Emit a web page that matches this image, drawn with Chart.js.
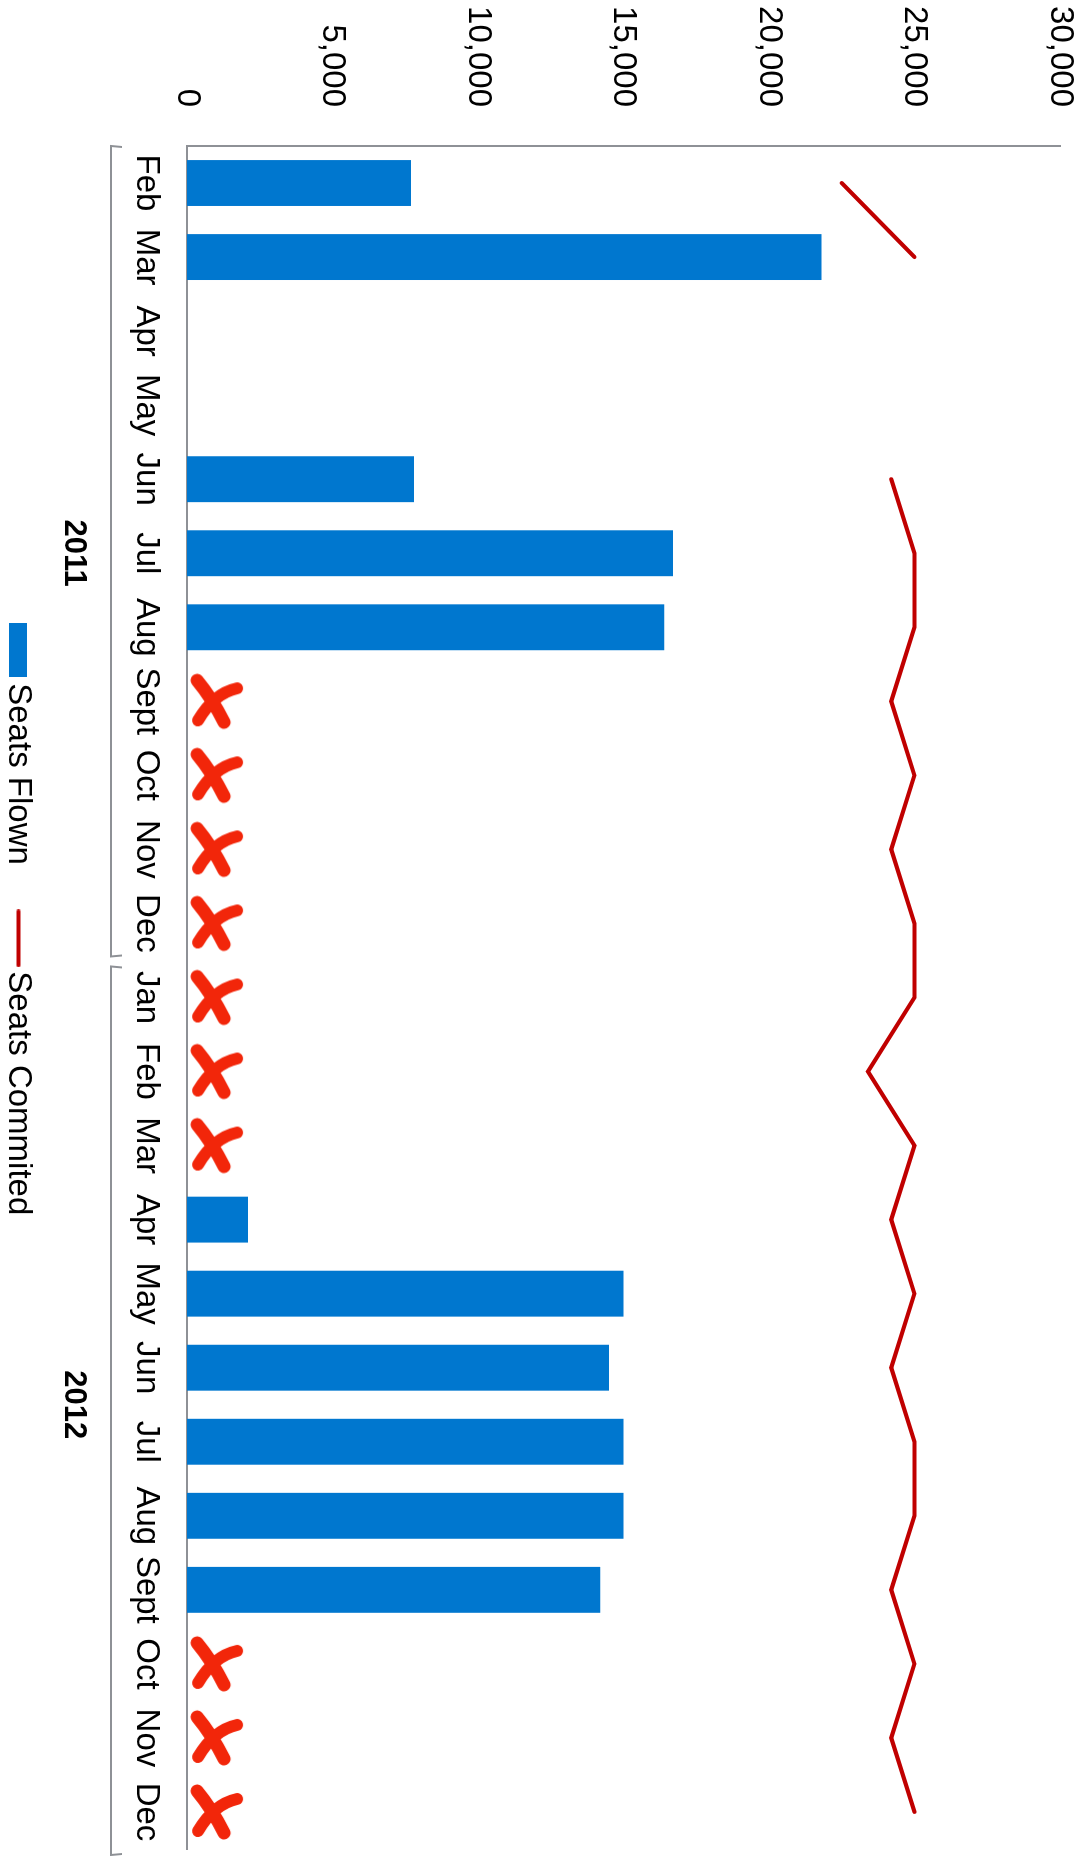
<!DOCTYPE html>
<html>
<head>
<meta charset="utf-8">
<script src="https://cdn.jsdelivr.net/npm/chart.js@4/dist/chart.umd.min.js"></script>
<style>
  html, body { margin: 0; padding: 0; background: #fff; overflow: hidden; }
  /* the chart is laid out landscape, then turned a quarter clockwise */
  #wrap { position: absolute; left: 0; top: 0; width: 1865px; height: 1087px;
          transform-origin: 0 0; transform: translateX(1087px) rotate(90deg); }
</style>
</head>
<body>
<div id="wrap"><canvas id="seatsChart" width="1865" height="1087"></canvas></div>
<script>
const months = ['Feb', 'Mar', 'Apr', 'May', 'Jun', 'Jul', 'Aug', 'Sept', 'Oct', 'Nov', 'Dec',
                'Jan', 'Feb', 'Mar', 'Apr', 'May', 'Jun', 'Jul', 'Aug', 'Sept', 'Oct', 'Nov', 'Dec'];
const yearLabels = ['2011', '2012'];
const monthsPerYear = [11, 12];

const seatsFlown = [7700, 21800, null, null, 7800, 16700, 16400,
                    null, null, null, null, null, null, null,
                    2100, 15000, 14500, 15000, 15000, 14200,
                    null, null, null];
const seatsCommitted = [22500, 25000, null, null, 24200, 25000, 25000, 24200, 25000, 24200, 25000,
                        25000, 23400, 25000, 24200, 25000, 24200, 25000, 25000, 24200, 25000, 24200, 25000];
// months with no flights, marked with a red cross near the axis
const notFlown = [false, false, false, false, false, false, false, true, true, true, true,
                  true, true, true, false, false, false, false, false, false, true, true, true];
const crossLevel = 1000;

const valueTicks = [0, 5000, 10000, 15000, 20000, 25000, 30000];

Chart.defaults.font.family = "'Liberation Sans', Arial, sans-serif";
Chart.defaults.font.size = 33;
Chart.defaults.color = '#000';

// brush style cross, drawn as it should look on screen
function makeCross() {
    const c = document.createElement('canvas');
    c.width = 58;
    c.height = 60;
    const g = c.getContext('2d');
    g.strokeStyle = '#F2260A';
    g.lineCap = 'round';
    g.lineWidth = 13;
    g.beginPath();
    g.moveTo(10, 9);
    g.quadraticCurveTo(25, 27, 37, 51);
    g.stroke();
    g.lineWidth = 12;
    g.beginPath();
    g.moveTo(50, 17);
    g.quadraticCurveTo(27, 22, 11, 49);
    g.stroke();
    return c;
}

// legend swatches
function makeSwatch(w, h, color, line) {
    const c = document.createElement('canvas');
    c.width = w;
    c.height = h;
    const g = c.getContext('2d');
    if (line) {
        g.strokeStyle = color;
        g.lineWidth = 4;
        g.lineCap = 'round';
        g.beginPath();
        g.moveTo(2, h / 2);
        g.lineTo(w - 2, h / 2);
        g.stroke();
    } else {
        g.fillStyle = color;
        g.fillRect(0, 0, w, h);
    }
    return c;
}

const yearGroups = {
    id: 'yearGroups',
    afterDraw(chart) {
        const { ctx, chartArea } = chart;
        const x = chart.scales.x;
        const half = (x.getPixelForValue(1) - x.getPixelForValue(0)) / 2;
        let start = 0;
        ctx.save();
        yearLabels.forEach((label, i) => {
            const end = start + monthsPerYear[i] - 1;
            const left = x.getPixelForValue(start) - half + (i > 0 ? 6 : 0);
            const right = x.getPixelForValue(end) + half + (i < yearLabels.length - 1 ? -4 : 6);
            const base = chartArea.bottom + 76;
            ctx.strokeStyle = '#8E9196';
            ctx.lineWidth = 2;
            ctx.beginPath();
            ctx.moveTo(left + 1, base - 11);
            ctx.lineTo(left, base);
            ctx.lineTo(right, base);
            ctx.lineTo(right - 1, base - 11);
            ctx.stroke();
            ctx.fillStyle = '#000';
            ctx.font = "bold 31px 'Liberation Sans', Arial, sans-serif";
            ctx.textAlign = 'center';
            ctx.textBaseline = 'alphabetic';
            const mid = (x.getPixelForValue(start) + x.getPixelForValue(end)) / 2;
            ctx.fillText(label, mid, chartArea.bottom + 122);
            start = end + 1;
        });
        ctx.restore();
    }
};

const legendGap = 57;

const ctx = document.getElementById('seatsChart').getContext('2d');
new Chart(ctx, {
    type: 'bar',
    data: {
        labels: months,
        datasets: [
            {
                label: 'Seats Flown',
                data: seatsFlown,
                backgroundColor: '#0077CF',
                borderWidth: 0,
                barPercentage: 0.62,
                categoryPercentage: 1,
                pointStyle: makeSwatch(54, 18, '#0077CF', false)
            },
            {
                type: 'line',
                label: 'Seats Commited',
                data: seatsCommitted,
                borderColor: '#C00000',
                backgroundColor: '#C00000',
                borderWidth: 4,
                borderCapStyle: 'round',
                pointRadius: 0,
                pointStyle: makeSwatch(58, 8, '#C00000', true),
                spanGaps: false,
                tension: 0
            },
            {
                type: 'line',
                label: 'not flown',
                data: notFlown.map(f => f ? crossLevel : null),
                showLine: false,
                pointStyle: makeCross(),
                pointRotation: -90,
                pointRadius: 5
            }
        ]
    },
    options: {
        responsive: false,
        animation: false,
        events: [],
        layout: { padding: { top: 27, right: 16, bottom: -8, left: 0 } },
        scales: {
            x: {
                offset: true,
                grid: { display: false },
                border: { color: '#8E9196', width: 2 },
                ticks: { padding: 13, autoSkip: false, maxRotation: 0 },
                afterFit: s => { s.height = 142 - (legendGap - 10); }
            },
            y: {
                min: 0,
                max: 30000,
                grid: { display: false },
                border: { color: '#8E9196', width: 2 },
                ticks: { padding: 31, stepSize: 5000 },
                afterBuildTicks: s => { s.ticks = valueTicks.map(v => ({ value: v })); },
                afterFit: s => {
                    s.width = 146;
                    s.paddingTop = 0;
                    s.paddingBottom = 0;
                }
            }
        },
        plugins: {
            tooltip: { enabled: false },
            legend: {
                position: 'bottom',
                labels: {
                    usePointStyle: true,
                    pointStyleWidth: 33,
                    boxHeight: 18,
                    padding: legendGap,
                    filter: item => item.datasetIndex < 2
                }
            }
        }
    },
    plugins: [yearGroups]
});
</script>
</body>
</html>
